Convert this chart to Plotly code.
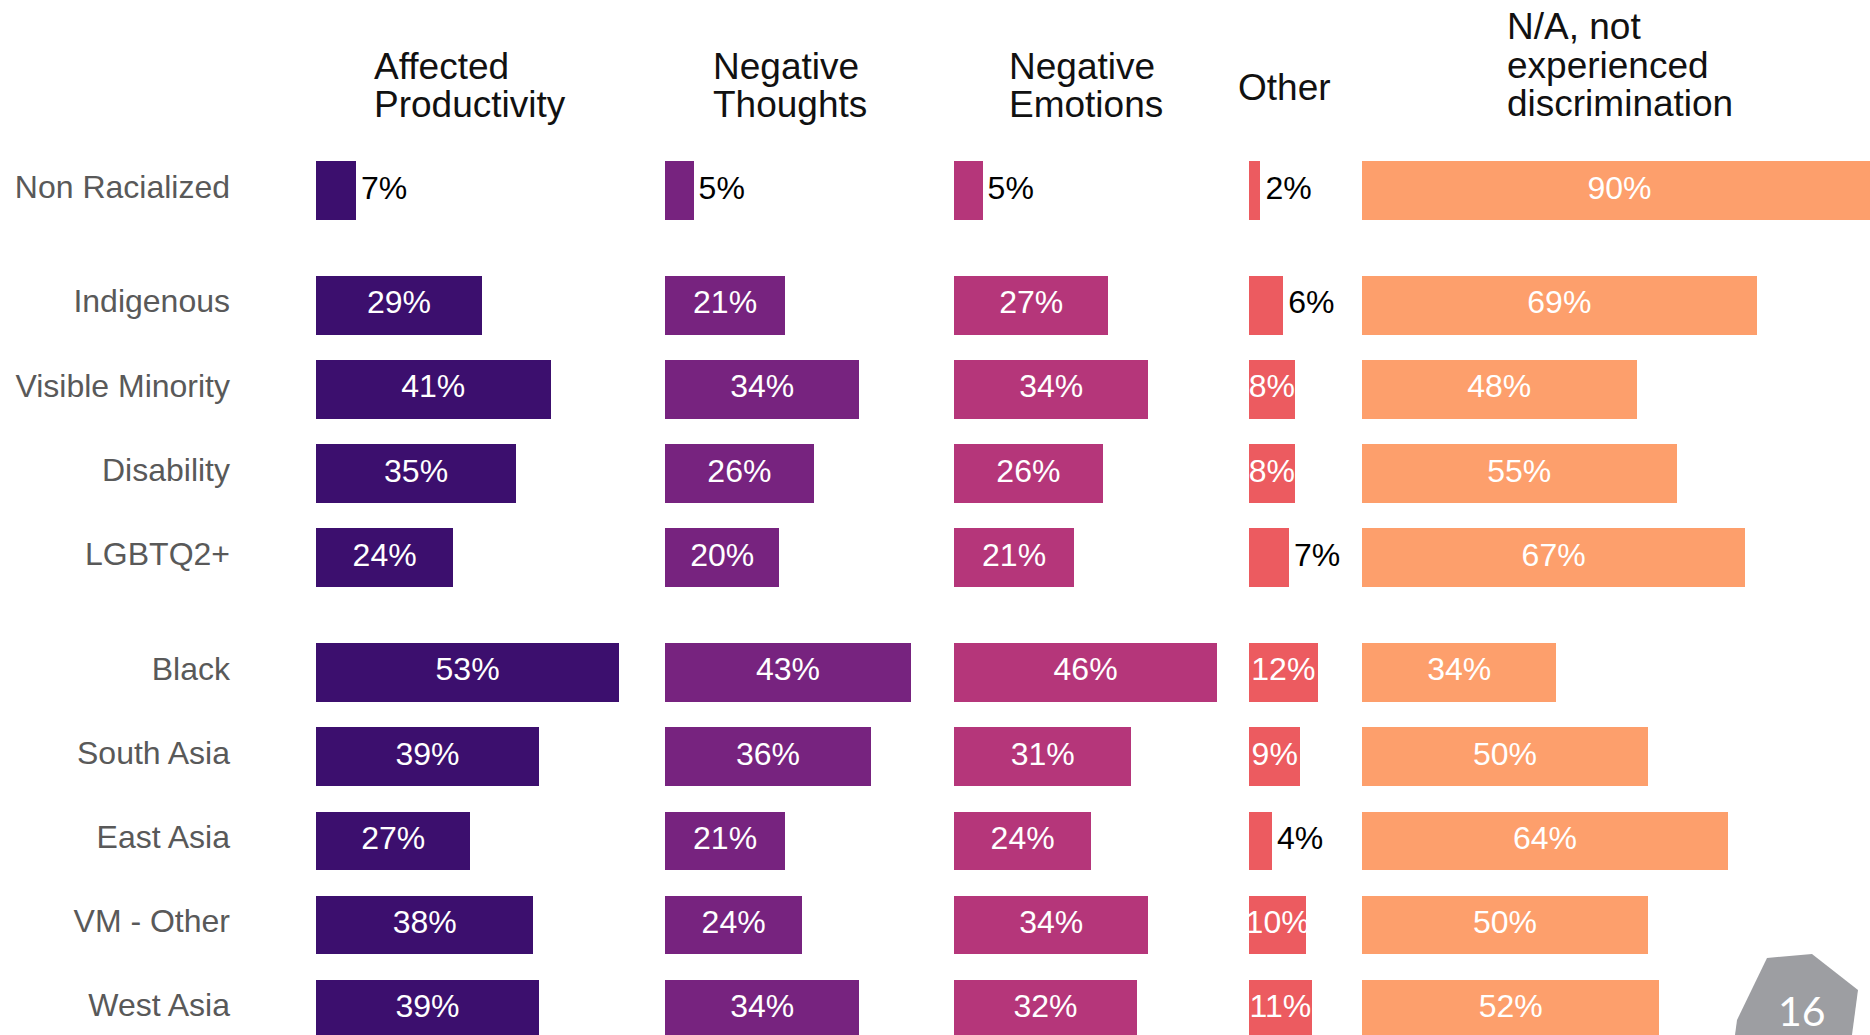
import plotly.graph_objects as go

# ---------------- data ----------------
groups = ["Non Racialized", "Indigenous", "Visible Minority", "Disability", "LGBTQ2+",
          "Black", "South Asia", "East Asia", "VM - Other", "West Asia"]
section = [0, 1, 1, 1, 1, 2, 2, 2, 2, 2]
header_lines = [["Affected", "Productivity"], ["Negative", "Thoughts"], ["Negative", "Emotions"],
                ["Other"], ["N/A, not", "experienced", "discrimination"]]
affected = [7, 29, 41, 35, 24, 53, 39, 27, 38, 39]
neg_thoughts = [5, 21, 34, 26, 20, 43, 36, 21, 24, 34]
neg_emotions = [5, 27, 34, 26, 21, 46, 31, 24, 34, 32]
other = [2, 6, 8, 8, 7, 12, 9, 4, 10, 11]
not_experienced = [90, 69, 48, 55, 67, 34, 50, 64, 50, 52]
series = [affected, neg_thoughts, neg_emotions, other, not_experienced]
colors = ["#3c0f6e", "#77237f", "#b5367a", "#ec5b60", "#fd9f6c"]
page_number = "16"

# ---------------- layout geometry (pixels) ----------------
W, H = 1870, 1035
px_per_pct = 5.72
col_left = [316, 665, 954, 1249, 1362]
col_right = [660, 950, 1245, 1358, 1870]
row0_px, pitch_px, gap = 190.5, 84.2, 0.362
header_x = [372, 711, 1007, 1236, 1505]
header_y = [[66, 104], [66, 104], [66, 104], [87], [27, 65, 103]]
inside_min = 8          # labels of bars at least this long sit inside the bar
outside_pad_px = 5      # gap between a bar end and its outside label

FONT = "Liberation Sans, Arial, sans-serif"
ypos = [i + s * gap for i, s in enumerate(section)]
pad = outside_pad_px / px_per_pct

fig = go.Figure()
for k, vals in enumerate(series):
    ax = "x" if k == 0 else f"x{k+1}"
    fig.add_trace(go.Bar(
        x=vals, y=ypos, orientation="h", xaxis=ax, yaxis="y",
        width=0.697, marker=dict(color=colors[k], line=dict(width=0)),
        showlegend=False, hoverinfo="skip",
    ))
    ins = [i for i, v in enumerate(vals) if v >= inside_min]
    outs = [i for i, v in enumerate(vals) if v < inside_min]
    if ins:
        fig.add_trace(go.Scatter(
            x=[vals[i] / 2 for i in ins], y=[ypos[i] for i in ins], mode="text",
            text=[f"{vals[i]}%" for i in ins], textposition="middle center",
            xaxis=ax, yaxis="y", textfont=dict(family=FONT, size=32, color="white"),
            cliponaxis=False, showlegend=False, hoverinfo="skip",
        ))
    if outs:
        fig.add_trace(go.Scatter(
            x=[vals[i] + pad for i in outs], y=[ypos[i] for i in outs], mode="text",
            text=[f"{vals[i]}%" for i in outs], textposition="middle right",
            xaxis=ax, yaxis="y", textfont=dict(family=FONT, size=32, color="black"),
            cliponaxis=False, showlegend=False, hoverinfo="skip",
        ))
    axd = dict(domain=[col_left[k] / W, col_right[k] / W],
               range=[0, (col_right[k] - col_left[k]) / px_per_pct],
               visible=False, anchor="y", fixedrange=True)
    fig.update_layout(**{("xaxis" if k == 0 else f"xaxis{k+1}"): axd})

y_top = -row0_px / pitch_px
y_bot = (H - row0_px) / pitch_px
fig.update_layout(yaxis=dict(
    domain=[0, 1], range=[y_bot, y_top], anchor="x",
    tickvals=ypos, ticktext=groups, ticks="", showgrid=False, zeroline=False, showline=False,
    tickfont=dict(family=FONT, size=32, color="#595959"), ticklabelstandoff=85,
    ticklabelshift=4,
))

annotations = []
for k, lines in enumerate(header_lines):
    for line, yp in zip(lines, header_y[k]):
        annotations.append(dict(
            text=line, xref="paper", yref="paper", x=header_x[k] / W, y=1 - yp / H,
            xanchor="left", yanchor="middle", showarrow=False,
            font=dict(family=FONT, size=37, color="#111111"),
        ))

# page-number badge
badge = [(1767, 958), (1812, 954), (1858, 990), (1852, 1035), (1735, 1035), (1737, 1020)]
path = "M " + " L ".join(f"{x / W:.5f},{1 - y / H:.5f}" for x, y in badge) + " Z"
shapes = [dict(type="path", xref="paper", yref="paper", path=path,
               fillcolor="#9d9ea2", line=dict(width=0), layer="below")]
annotations.append(dict(text=page_number, xref="paper", yref="paper", x=1802 / W, y=1 - 1010 / H,
                        xanchor="center", yanchor="middle", showarrow=False,
                        font=dict(family="Lato, Open Sans, sans-serif", size=41, color="white")))

fig.update_layout(
    width=W, height=H, margin=dict(l=0, r=0, t=0, b=0),
    paper_bgcolor="white", plot_bgcolor="rgba(0,0,0,0)",
    bargap=0, annotations=annotations, shapes=shapes,
)

fig.write_html("out.html", config={"displayModeBar": False},
               post_script="document.body.style.margin='0';document.body.style.overflow='hidden';")
